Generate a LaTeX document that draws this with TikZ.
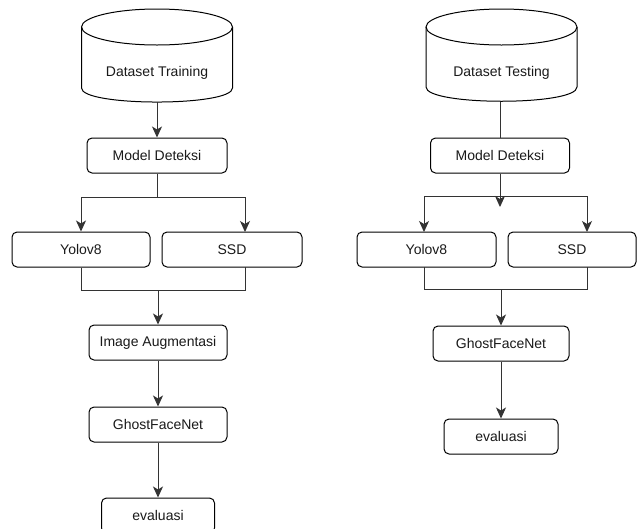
\documentclass[tikz,border=0pt]{standalone}
\usepackage{fontspec}
\setmainfont{Liberation Sans}
\usetikzlibrary{arrows.meta,calc}
\definecolor{txt}{HTML}{1A1A1A}
\definecolor{wire}{HTML}{333333}
\tikzset{
  box/.style={draw=black, line width=1pt, rounded corners=5pt, minimum height=35pt, inner sep=0pt, text=txt, font=\fontsize{14}{16}\selectfont},
  cyltext/.style={minimum width=151pt, minimum height=58pt, inner sep=0pt, text=txt, font=\fontsize{14}{16}\selectfont},
  cylline/.style={draw=black, line width=1pt},
  wireline/.style={draw=wire, line width=1pt},
  arr/.style={wireline, -{Stealth[length=11pt, width=10pt, inset=3pt]}}
}
\begin{document}
\begin{tikzpicture}[x=1pt, y=-1pt]
\useasboundingbox (0,0) rectangle (637,528);
\clip (0,0) rectangle (637,528);
\fill[white] (0,0) rectangle (637,528);

% ---------------- left flow ----------------
\node[cyltext] (dtrain) at (157,73) {Dataset Training};
\draw[cylline] (81.5,27) -- (81.5,88) .. controls (81.5,106.7) and (232.5,106.7) .. (232.5,88) -- (232.5,27);
\draw[cylline] (157,27) ellipse [x radius=75.5pt, y radius=18pt];

\node[box, minimum width=140pt] (md1) at (157,155.5) {Model Deteksi};
\node[box, minimum width=138pt] (yolo1) at (81,249.5) {Yolov8};
\node[box, minimum width=140pt] (ssd1) at (232,249.5) {SSD};
\node[box, minimum width=138pt] (aug1) at (158,342.5) {Image Augmentasi};
\node[box, minimum width=138pt] (gfn1) at (158,424.5) {GhostFaceNet};
\node[box, minimum width=113pt] (eval1) at (158,515.5) {evaluasi};

\coordinate (j1) at (157,197);
\coordinate (ssd1in) at (245,232);
\coordinate (ssd1out) at (245,267);
\coordinate (m1) at (158,290);

\draw[arr] (dtrain.south) -- (md1.north);
\draw[wireline] (md1.south) -- (j1);
\draw[arr] (j1) -| (yolo1.north);
\draw[arr] (j1) -| (ssd1in);
\draw[wireline] (yolo1.south) |- (m1);
\draw[wireline] (ssd1out) |- (m1);
\draw[arr] (m1) -- (aug1.north);
\draw[arr] (aug1.south) -- (gfn1.north);
\draw[arr] (gfn1.south) -- (eval1.north);

% ---------------- right flow ----------------
\node[cyltext] (dtest) at (501.5,73) {Dataset Testing};
\draw[cylline] (426,27) -- (426,87) .. controls (426,106) and (577,106) .. (577,87) -- (577,27);
\draw[cylline] (501.5,27) ellipse [x radius=75.5pt, y radius=18pt];

\node[box, minimum width=139pt] (md2) at (500,155.5) {Model Deteksi};
\node[box, minimum width=139pt] (yolo2) at (426.5,249.5) {Yolov8};
\node[box, minimum width=128pt] (ssd2) at (572,249.5) {SSD};
\node[box, minimum width=136pt] (gfn2) at (501,343.5) {GhostFaceNet};
\node[box, minimum width=114pt] (eval2) at (501,436.5) {evaluasi};

\coordinate (j2) at (500,196);
\coordinate (j2tip) at (500,207);
\coordinate (yolo2in) at (424,232);
\coordinate (ssd2in) at (587,232);
\coordinate (yolo2out) at (424,267);
\coordinate (ssd2out) at (587,267);
\coordinate (m2) at (501,289);

\draw[wireline] (dtest.south -| md2.north) -- (md2.north);
\draw[arr] (md2.south) -- (j2tip);
\draw[arr] (j2) -| (yolo2in);
\draw[arr] (j2) -| (ssd2in);
\draw[wireline] (yolo2out) |- (m2);
\draw[wireline] (ssd2out) |- (m2);
\draw[arr] (m2) -- (gfn2.north);
\draw[arr] (gfn2.south) -- (eval2.north);
\end{tikzpicture}
\end{document}
